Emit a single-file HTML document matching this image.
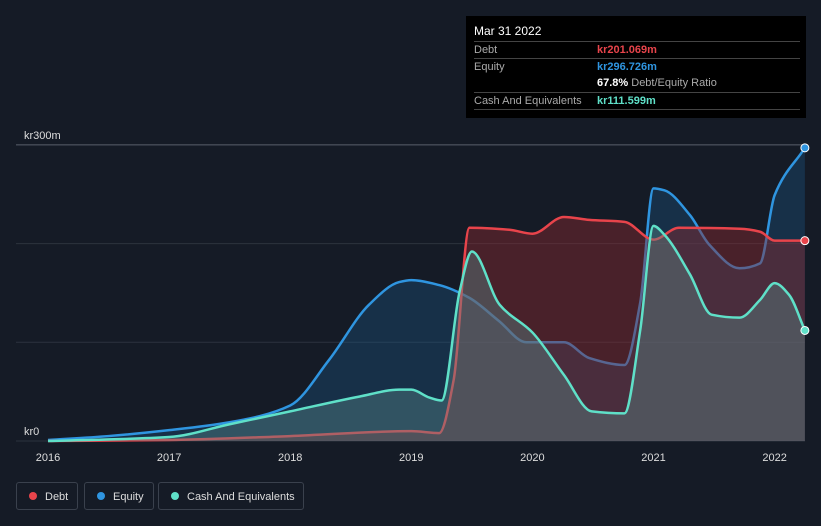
<!DOCTYPE html>
<html><head><meta charset="utf-8"><style>
body{margin:0;background:#151b26;font-family:"Liberation Sans",sans-serif;}
#wrap{position:relative;width:821px;height:526px;overflow:hidden;background:#151b26;}
.tip{position:absolute;left:466px;top:16px;width:340px;height:102px;background:#000;color:#fff;font-size:11px;}
.tip .r{position:absolute;left:8px;right:6px;border-top:1px solid #444;height:17px;line-height:17px;color:#aaa;}
.tip .v{position:absolute;left:123px;font-weight:bold;}
.leg{position:absolute;top:482px;height:28px;border:1px solid #3a414d;border-radius:3px;color:#ddd;font-size:11px;line-height:28px;box-sizing:border-box;white-space:nowrap;}
.dot{display:inline-block;width:8px;height:8px;border-radius:50%;margin:0 8px 0 12px;vertical-align:0px;}
</style></head><body>
<div id="wrap">
<svg id="svg" width="821" height="526" style="position:absolute;left:0;top:0"></svg>
<div class="tip">
 <div style="position:absolute;left:8px;top:8px;font-size:12px">Mar 31 2022</div>
 <div class="r" style="top:25px">Debt<span class="v" style="color:#e8444b">kr201.069m</span></div>
 <div class="r" style="top:42px">Equity<span class="v" style="color:#2f95e0">kr296.726m</span></div>
 <div class="r" style="top:59px;border-top:none"><span class="v" style="color:#fff">67.8% <span style="color:#aaa;font-weight:normal">Debt/Equity Ratio</span></span></div>
 <div class="r" style="top:76px">Cash And Equivalents<span class="v" style="color:#5fe0c8">kr111.599m</span></div>
 <div class="r" style="top:93px;height:0"></div>
</div>
<div class="leg" style="left:16px;width:62px"><span class="dot" style="background:#e8444b"></span>Debt</div>
<div class="leg" style="left:84px;width:70px"><span class="dot" style="background:#2f95e0"></span>Equity</div>
<div class="leg" style="left:158px;width:146px"><span class="dot" style="background:#5fe0c8"></span>Cash And Equivalents</div>
</div>
<script>
const yearTicks=[2016,2017,2018,2019,2020,2021,2022];
const equityT=[2016,2016.5,2017,2017.5,2018,2018.32,2018.65,2018.9,2019,2019.23,2019.48,2019.72,2019.95,2020.26,2020.47,2020.76,2020.89,2021,2021.09,2021.3,2021.46,2021.71,2021.88,2022,2022.25];
const equityV=[1,5,11,19,36,82,138,161,163,158,145,122,100,100,84,77,140,256,254,229,199,175,180,249,297];
const debtT=[2016,2017,2018,2019,2019.23,2019.35,2019.48,2019.81,2020,2020.26,2020.47,2020.76,2021,2021.21,2021.71,2021.88,2022,2022.25];
const debtV=[0,1,5,10,8,62,216,214,210,227,224,222,204,216,215,212,203,203];
const cashT=[2016,2017,2017.5,2018,2018.57,2018.9,2019,2019.15,2019.25,2019.4,2019.5,2019.73,2020,2020.26,2020.49,2020.76,2020.89,2021,2021.09,2021.3,2021.48,2021.71,2021.88,2022,2022.12,2022.25];
const cashV=[0,4,17,30,45,52,52,44,41,152,192,138,110,67,30,28,112,218,209,169,128,125,143,160,148,112];
const yTickV=[0,100,200,300];
const x=t=>48+(t-2016)*121.1, y=v=>441-v*0.987;
const svg=document.getElementById('svg');const NS='http://www.w3.org/2000/svg';
function mk(tag,a){const e=document.createElementNS(NS,tag);for(const k in a)e.setAttribute(k,a[k]);svg.appendChild(e);return e;}
function path(T,V){const X=T.map(x),Y=V.map(y),n=X.length;const dx=[],s=[];
for(let i=0;i<n-1;i++){dx.push(X[i+1]-X[i]);s.push((Y[i+1]-Y[i])/dx[i]);}
const m=[s[0]];for(let i=1;i<n-1;i++){m.push(s[i-1]*s[i]<=0?0:3*(dx[i-1]+dx[i])/((2*dx[i]+dx[i-1])/s[i-1]+(dx[i]+2*dx[i-1])/s[i]));}m.push(s[n-2]);
let d=`M${X[0]},${Y[0]}`;for(let i=0;i<n-1;i++){const h=dx[i]/3;
d+=`C${X[i]+h},${Y[i]+m[i]*h} ${X[i+1]-h},${Y[i+1]-m[i+1]*h} ${X[i+1]},${Y[i+1]}`;}return d;}
yTickV.forEach(v=>{const g=mk('line',{x1:16,x2:805,y1:y(v),y2:y(v),stroke:v==300?'#5a606b':'#2c333e','stroke-width':1});
});
const yl=[[0,'kr0'],[300,'kr300m']];
yl.forEach(([v,s])=>{const t=mk('text',{x:24,y:y(v)-6,fill:'#ddd','font-size':11});t.textContent=s;
});
yearTicks.forEach(yr=>{const t=mk('text',{x:x(yr),y:461,fill:'#ddd','font-size':11,'text-anchor':'middle'});t.textContent=yr;
});
function series(T,V,col,fill,op,name){const d=path(T,V);
const a=mk('path',{d:d+`L${x(T[T.length-1])},${y(0)}L${x(T[0])},${y(0)}Z`,fill:fill,'fill-opacity':op});

const l=mk('path',{d:d,fill:'none',stroke:col,'stroke-width':2.5});

const c=mk('circle',{cx:x(T[T.length-1]),cy:y(V[V.length-1]),r:4,fill:col,stroke:'#fff','stroke-width':1});
}
series(equityT,equityV,'#2f95e0','#1e5a8a',0.35,'equity');
series(debtT,debtV,'#e8444b','#8a2b30',0.45,'debt');
series(cashT,cashV,'#5fe0c8','#5a8a8a',0.4,'cash');
</script>
</body></html>
